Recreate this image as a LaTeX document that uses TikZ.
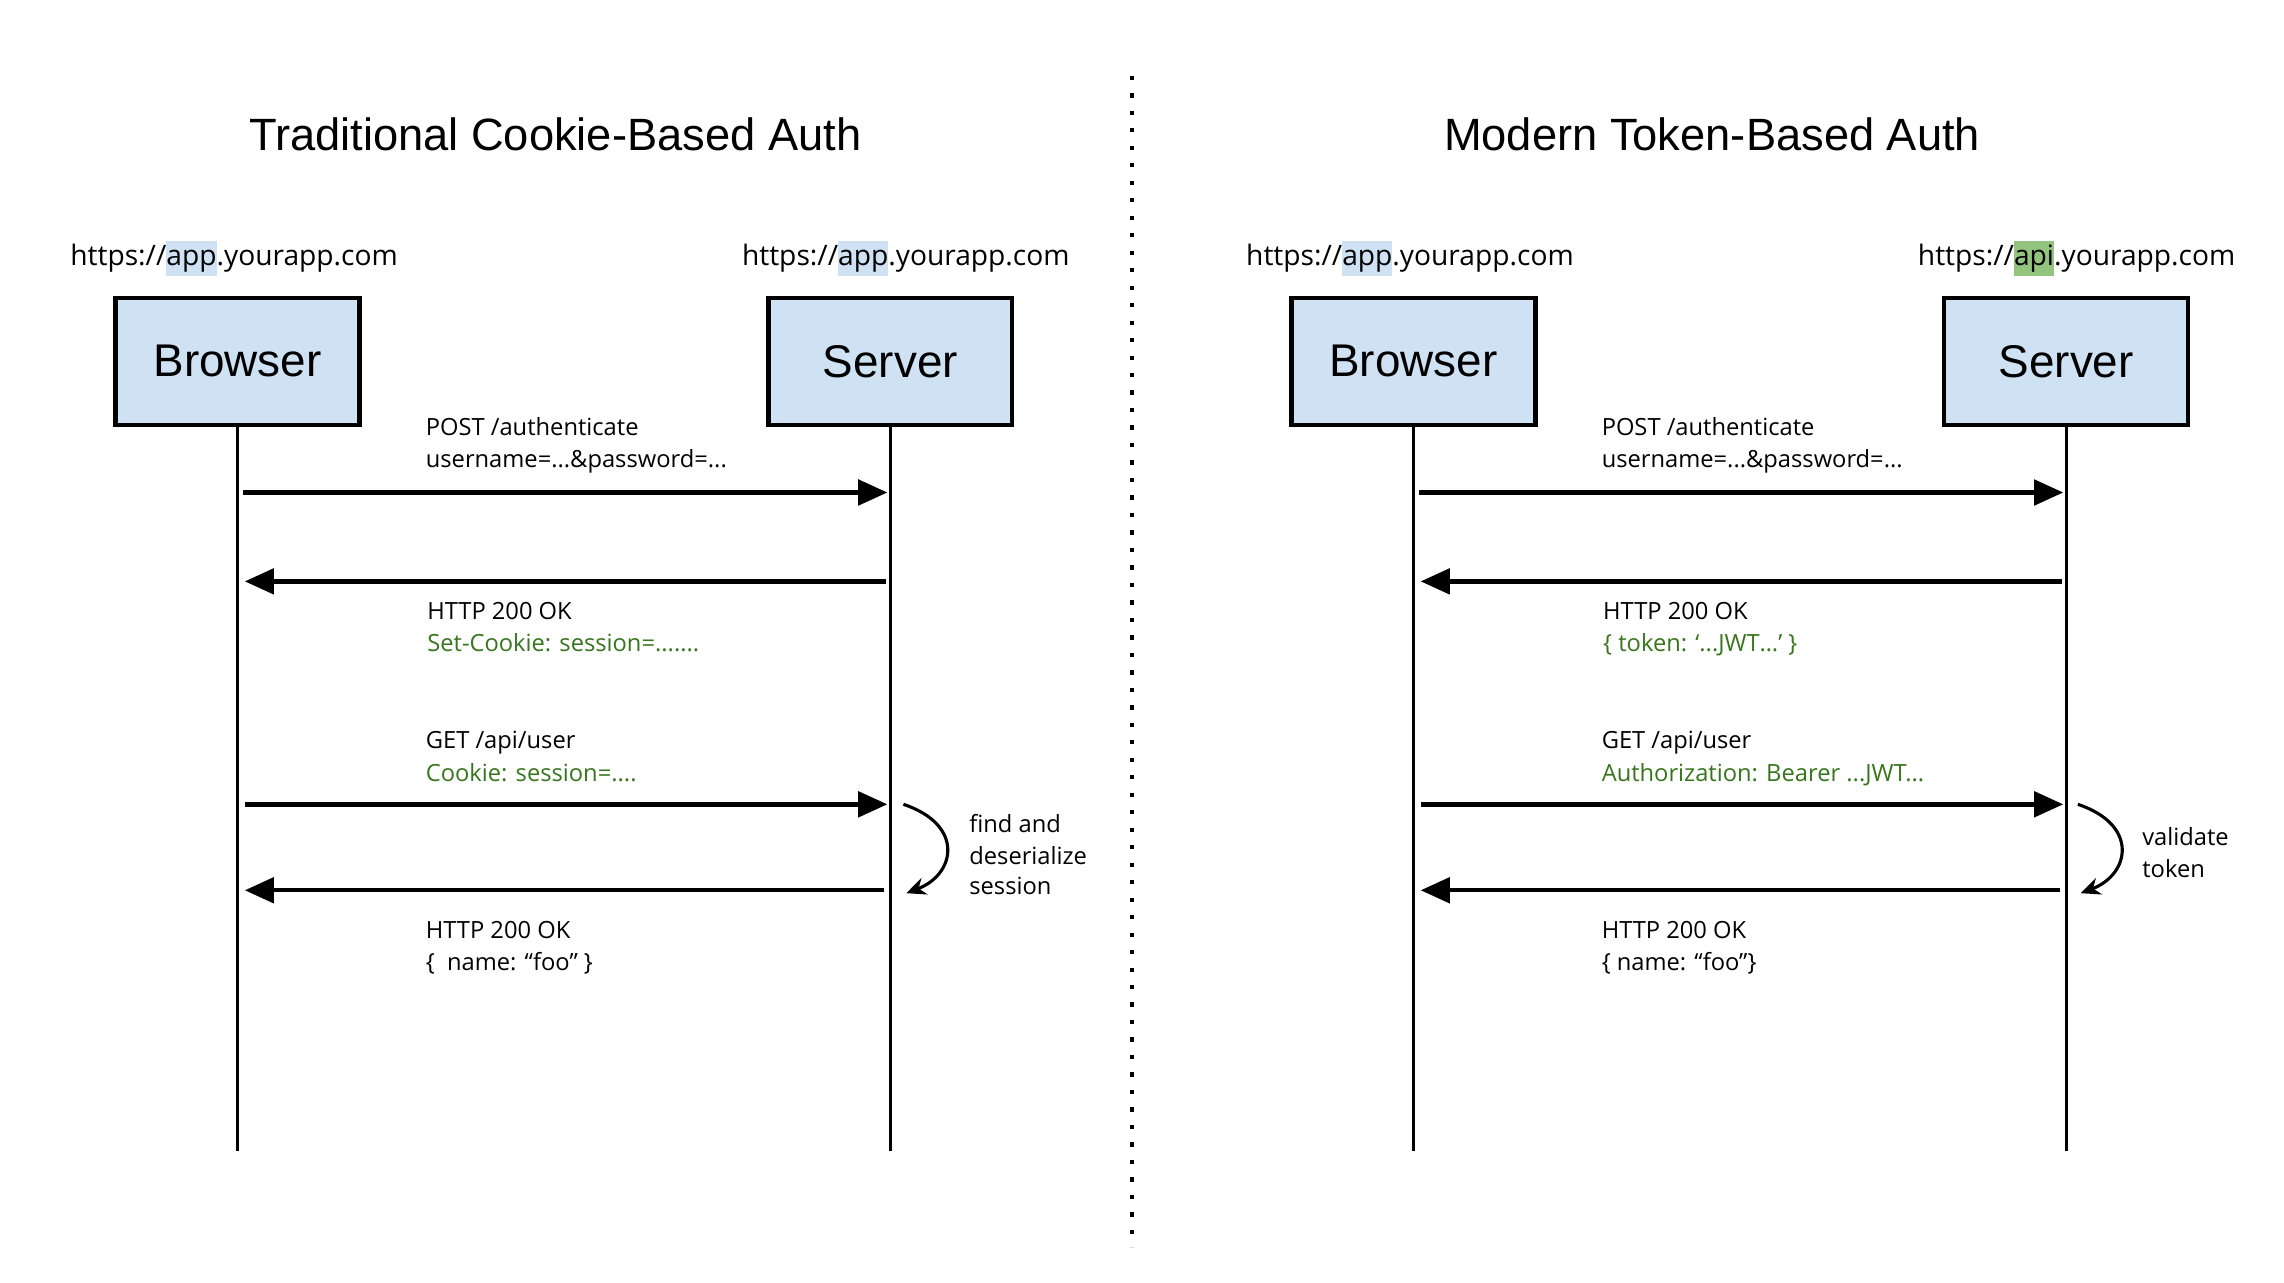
\documentclass[tikz,border=0pt]{standalone}
\usepackage{fontspec}
\setmainfont{Open Sans}
\newfontfamily\titlefont{Liberation Sans}
\newfontfamily\urlfont{Open Sans}
\usetikzlibrary{arrows.meta}
\definecolor{boxblue}{HTML}{CFE2F3}
\definecolor{hlgreen}{HTML}{93C47D}
\definecolor{txtgreen}{HTML}{38761D}
\newcommand\hlbox[2]{{\setlength\fboxsep{0pt}\colorbox{#1}{\strut #2}}}
\begin{document}
\begin{tikzpicture}[x=0.75pt,y=-0.75pt,
  actor/.style={draw,line width=2.25pt,fill=boxblue,minimum width=125.5pt,minimum height=65.5pt,inner sep=0pt,font=\titlefont\fontsize{23.6}{28}\selectfont},
  ttl/.style={font=\titlefont\fontsize{23.3}{28}\selectfont},
  url/.style={anchor=base west,inner sep=0pt,font=\urlfont\fontsize{14.5}{18}\selectfont},
  lbl/.style={anchor=base west,inner sep=0pt,font=\fontsize{12.2}{15}\selectfont},
  glbl/.style={lbl,text=txtgreen},
  life/.style={line width=1.5pt},
  msg/.style={line width=2.25pt,-{Triangle[length=15pt,width=13pt]}},
  loop/.style={line width=1.6pt,-{Stealth[length=10pt,width=9pt]}},
  divider/.style={line width=2.2pt,dash pattern=on 2.2pt off 6.8pt}
]
\useasboundingbox (0,0) rectangle (1567.5,880);
\fill[white] (0,0) rectangle (1567.5,880);

% divider
\coordinate (dtop) at (777,52);
\coordinate (dbot) at (777,856);
\draw[divider] (dtop) -- (dbot);

% titles
\node[ttl] (t1) at (381,92) {Traditional Cookie-Based Auth};
\node[ttl] (t2) at (1175,92) {Modern Token-Based Auth};

% urls
\node[url] (u1) at (48,182) {https://\hlbox{boxblue}{app}.yourapp.com};
\node[url] (u2) at (509,182) {https://\hlbox{boxblue}{app}.yourapp.com};
\node[url] (u3) at (855,182) {https://\hlbox{boxblue}{app}.yourapp.com};
\node[url] (u4) at (1316,182) {https://\hlbox{hlgreen}{api}.yourapp.com};

% actors
\node[actor] (b1) at (163,248) {Browser};
\node[actor] (s1) at (611,248) {Server};
\node[actor] (b2) at (970,248) {Browser};
\node[actor] (s2) at (1418,248) {Server};

% lifelines
\coordinate (b1e) at (163,790);
\coordinate (s1e) at (611,790);
\coordinate (b2e) at (970,790);
\coordinate (s2e) at (1418,790);
\draw[life] (b1.south) -- (b1e);
\draw[life] (s1.south) -- (s1e);
\draw[life] (b2.south) -- (b2e);
\draw[life] (s2.south) -- (s2e);

% ---------- left messages
\coordinate (l1a) at (167,338); \coordinate (l1b) at (609,338);
\coordinate (l2a) at (608,399); \coordinate (l2b) at (168,399);
\coordinate (l3a) at (168,552); \coordinate (l3b) at (609,552);
\coordinate (l4a) at (607,611); \coordinate (l4b) at (168,611);
\draw[msg] (l1a) -- (l1b);
\draw[msg] (l2a) -- (l2b);
\draw[msg] (l3a) -- (l3b);
\draw[msg] (l4a) -- (l4b);
\coordinate (l5a) at (620,552); \coordinate (l5b) at (622,613);
\draw[loop] (l5a) .. controls (662,566) and (656,600) .. (l5b);

\node[lbl] (p1) at (292,299) {POST /authenticate};
\node[lbl] (p2) at (292,321) {username=...\&password=...};
\node[lbl] (h1) at (293,425) {HTTP 200 OK};
\node[glbl] (h2) at (293,447) {Set-Cookie: session=.......};
\node[lbl] (g1) at (292,514) {GET /api/user};
\node[glbl] (g2) at (292,536) {Cookie: session=....};
\node[lbl] (r1) at (292,644) {HTTP 200 OK};
\node[lbl] (r2) at (292,666) {\{\ \ name: “foo” \}};
\node[lbl] (f1) at (665,571) {find and};
\node[lbl] (f2) at (665,593) {deserialize};
\node[lbl] (f3) at (665,614) {session};

% ---------- right messages
\coordinate (m1a) at (974,338); \coordinate (m1b) at (1416,338);
\coordinate (m2a) at (1415,399); \coordinate (m2b) at (975,399);
\coordinate (m3a) at (975,552); \coordinate (m3b) at (1416,552);
\coordinate (m4a) at (1414,611); \coordinate (m4b) at (975,611);
\draw[msg] (m1a) -- (m1b);
\draw[msg] (m2a) -- (m2b);
\draw[msg] (m3a) -- (m3b);
\draw[msg] (m4a) -- (m4b);
\coordinate (m5a) at (1426,552); \coordinate (m5b) at (1428,613);
\draw[loop] (m5a) .. controls (1468,566) and (1462,600) .. (m5b);

\node[lbl] (q1) at (1099,299) {POST /authenticate};
\node[lbl] (q2) at (1099,321) {username=...\&password=...};
\node[lbl] (k1) at (1100,425) {HTTP 200 OK};
\node[glbl] (k2) at (1100,447) {\{ token: ‘...JWT…’ \}};
\node[lbl] (e1) at (1099,514) {GET /api/user};
\node[glbl] (e2) at (1099,536) {Authorization: Bearer ...JWT...};
\node[lbl] (n1) at (1099,644) {HTTP 200 OK};
\node[lbl] (n2) at (1099,666) {\{ name: “foo”\}};
\node[lbl] (v1) at (1470,580) {validate};
\node[lbl] (v2) at (1470,602) {token};
\end{tikzpicture}
\end{document}
